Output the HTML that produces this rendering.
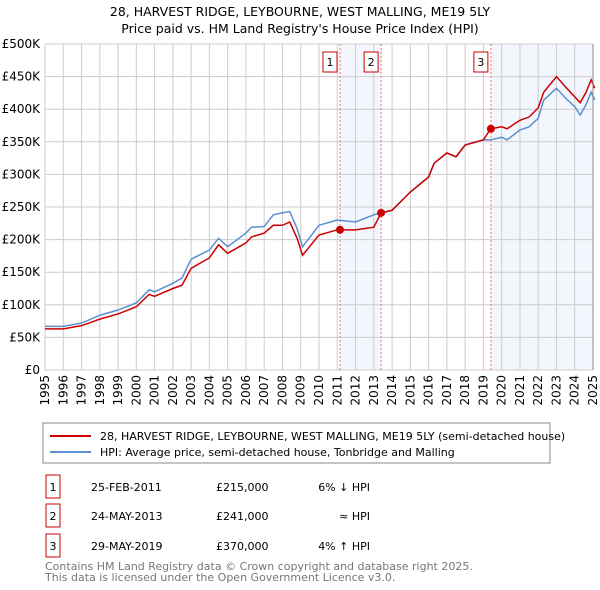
<!DOCTYPE html>
<html><head><meta charset="utf-8"><style>
body{margin:0;background:#fff;font-family:"Liberation Sans","DejaVu Sans",sans-serif;}
#wrap{position:relative;width:600px;height:590px;overflow:hidden;}
svg text{font-family:"DejaVu Sans","Liberation Sans",sans-serif;}
</style></head><body>
<div id="wrap">
<svg id="c" width="600" height="590" xmlns="http://www.w3.org/2000/svg">
<text x="300" y="16" text-anchor="middle" font-size="12.5" fill="#000">28, HARVEST RIDGE, LEYBOURNE, WEST MALLING, ME19 5LY</text>
<text x="300" y="33" text-anchor="middle" font-size="12.5" fill="#000">Price paid vs. HM Land Registry's House Price Index (HPI)</text>
<g id="plot"></g>
<rect x="43" y="423" width="507" height="40" fill="#fff" stroke="#888"/>
<line x1="50" y1="436" x2="91" y2="436" stroke="#cc0000" stroke-width="2"/>
<text x="100" y="440" font-size="11">28, HARVEST RIDGE, LEYBOURNE, WEST MALLING, ME19 5LY (semi-detached house)</text>
<line x1="50" y1="452" x2="91" y2="452" stroke="#5b8fd0" stroke-width="2"/>
<text x="100" y="456" font-size="11">HPI: Average price, semi-detached house, Tonbridge and Malling</text>
<g font-size="11">
<rect x="46" y="475" width="14" height="23" fill="none" stroke="#cc0000"/><text x="53" y="491" text-anchor="middle">1</text>
<text x="91" y="491">25-FEB-2011</text><text x="216" y="491">£215,000</text><text x="370" y="491" text-anchor="end">6% ↓ HPI</text>
<rect x="46" y="504" width="14" height="23" fill="none" stroke="#cc0000"/><text x="53" y="520" text-anchor="middle">2</text>
<text x="91" y="520">24-MAY-2013</text><text x="216" y="520">£241,000</text><text x="370" y="520" text-anchor="end">≈ HPI</text>
<rect x="46" y="534" width="14" height="23" fill="none" stroke="#cc0000"/><text x="53" y="550" text-anchor="middle">3</text>
<text x="91" y="550">29-MAY-2019</text><text x="216" y="550">£370,000</text><text x="370" y="550" text-anchor="end">4% ↑ HPI</text>
</g>
<text x="45" y="570" font-size="11" fill="#777">Contains HM Land Registry data © Crown copyright and database right 2025.</text>
<text x="45" y="581" font-size="11" fill="#777">This data is licensed under the Open Government Licence v3.0.</text>
</svg></div>
<script>
const years=[1995,1996,1997,1997.5,1998,1999,2000,2000.7,2001,2002,2002.5,2003,2004,2004.5,2005,2006,2006.3,2007,2007.5,2008,2008.4,2008.8,2009.1,2010,2011,2012,2013,2013.4,2014,2015,2016,2016.3,2017,2017.5,2018,2019,2019.4,2020,2020.3,2021,2021.5,2022,2022.3,2023,2023.5,2024,2024.3,2024.6,2024.9,2025.1];
const hpi=[67,67,72,78,84,92,103,123,120,133,141,170,184,202,189,210,219,220,238,241,243,217,189,222,230,227,238,241,245,273,296,317,333,327,345,353,353,357,353,368,373,386,414,432,417,404,391,406,426,414];
const paid=[63,63,68,73,78,86,97,116,113,125,130,156,172,192,179,195,204,210,222,222,227,202,176,207,215,215,219,241,245,273,296,317,333,327,345,353,370,373,370,383,388,402,426,450,434,419,410,425,445,432];
const sales=[[2011.15,215],[2013.4,241],[2019.41,370]];
const yTicks=[0,50,100,150,200,250,300,350,400,450,500];
const yLabels=["£0","£50K","£100K","£150K","£200K","£250K","£300K","£350K","£400K","£450K","£500K"];
const xTicks=[1995,1996,1997,1998,1999,2000,2001,2002,2003,2004,2005,2006,2007,2008,2009,2010,2011,2012,2013,2014,2015,2016,2017,2018,2019,2020,2021,2022,2023,2024,2025];
const X0=45,X1=593,Y0=370,Y1=44;
const sx=v=>X0+(v-1995)/30*(X1-X0);
const sy=v=>Y0-v/500*(Y0-Y1);
const NS="http://www.w3.org/2000/svg";
const g=document.getElementById('plot');
function mk(t,a,p){const e=document.createElementNS(NS,t);for(const k in a)e.setAttribute(k,a[k]);(p||g).appendChild(e);return e;}
[[sales[0][0],sales[1][0]],[sales[2][0],2025]].forEach((s,i)=>{const r=mk('rect',{x:sx(s[0]),y:Y1,width:sx(s[1])-sx(s[0]),height:Y0-Y1,fill:'#f3f6fd'});

});
yTicks.forEach((t,i)=>{const l=mk('line',{x1:X0,x2:X1,y1:sy(t),y2:sy(t),stroke:'#ccc'});


const tx=mk('text',{x:40,y:sy(t)+4,'text-anchor':'end','font-size':12});tx.textContent=yLabels[i];

});
xTicks.forEach(t=>{const l=mk('line',{x1:sx(t),x2:sx(t),y1:Y1,y2:Y0,stroke:'#ccc'});


const tx=mk('text',{x:0,y:0,'text-anchor':'end','font-size':12,transform:`translate(${sx(t)+4},${Y0+5}) rotate(-90)`});tx.textContent=t;

});
sales.forEach((s,i)=>{const l=mk('line',{x1:sx(s[0]),x2:sx(s[0]),y1:Y1,y2:Y0,stroke:'#f07070','stroke-dasharray':'2,2'});


const b=mk('rect',{x:sx(s[0])-17,y:52,width:14,height:20,fill:'#fff',stroke:'#cc0000'});


const tx=mk('text',{x:sx(s[0])-10,y:66,'text-anchor':'middle','font-size':11});tx.textContent=i+1;

});
const pts=a=>years.map((y,i)=>sx(y)+','+sy(a[i])).join(' ');
const hl=mk('polyline',{points:pts(hpi),fill:'none',stroke:'#5b8fd0','stroke-width':1.5});


const pl=mk('polyline',{points:pts(paid),fill:'none',stroke:'#cc0000','stroke-width':1.5});


sales.forEach((s,i)=>{const c=mk('circle',{cx:sx(s[0]),cy:sy(s[1]),r:4,fill:'#cc0000'});

});
const ax=mk('line',{x1:X1,x2:X1,y1:Y1,y2:Y0,stroke:'#888'});


</script>
</body></html>
